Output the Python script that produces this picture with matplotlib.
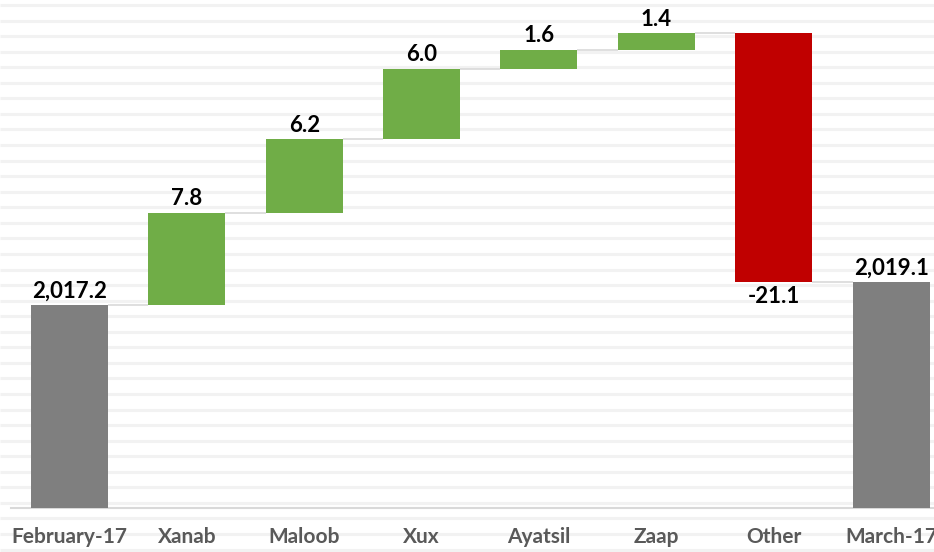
import numpy as np
import matplotlib
matplotlib.use("Agg")
from matplotlib import pyplot as plt

plt.rcParams['font.family'] = ['Lato', 'DejaVu Sans']

# data
categories = ['February-17', 'Xanab', 'Maloob', 'Xux', 'Ayatsil', 'Zaap', 'Other', 'March-17']
start_value = 2017.2
changes = [7.8, 6.2, 6.0, 1.6, 1.4, -21.1]
end_value = 2019.1

gray, green, red = '#7f7f7f', '#70ad47', '#c00000'
y_floor = 2000

fig = plt.figure(figsize=(9.34, 5.52), dpi=100)

# faint striped background across the whole picture
bg = fig.add_axes([0, 0, 1, 1], zorder=0)
bg.set_xlim(0, 934)
bg.set_ylim(552, 0)
bg.axis('off')
bg.hlines(np.arange(5, 552, 15.56), 0, 934, color='#f2f2f2', lw=2.2)

ax = fig.add_axes([10.8 / 934, (552 - 508) / 552, 939 / 934, 508 / 552], zorder=1)
ax.patch.set_alpha(0)

x = np.arange(len(categories))
w = 0.656

# running totals
totals = [start_value]
for c in changes:
    totals.append(totals[-1] + c)

bottoms = [y_floor]
heights = [start_value - y_floor]
colors = [gray]
for i, c in enumerate(changes):
    prev = totals[i]
    bottoms.append(min(prev, prev + c))
    heights.append(abs(c))
    colors.append(green if c > 0 else red)
bottoms.append(y_floor)
heights.append(end_value - y_floor)
colors.append(gray)

ax.bar(x, heights, bottom=bottoms, width=w, color=colors, zorder=3)

# connectors
levels = totals  # level after each bar, before the next
for i in range(len(categories) - 1):
    ax.hlines(levels[i], x[i] + w / 2, x[i + 1] - w / 2, color='#d9d9d9', lw=1.2, zorder=2)

# labels
labels = [f'{start_value:,.1f}'] + [f'{c:.1f}' for c in changes] + [f'{end_value:,.1f}']
for i in range(len(categories)):
    top = bottoms[i] + heights[i]
    if i in (0, len(categories) - 1) or changes[i - 1] > 0:
        ax.text(x[i], top + 0.3, labels[i], ha='center', va='bottom',
                fontsize=16, fontweight='bold', color='black')
    else:
        ax.text(x[i], bottoms[i] - 0.3, labels[i], ha='center', va='top',
                fontsize=16, fontweight='bold', color='black')

ax.set_xlim(-0.5, len(categories) - 0.5)
ax.set_ylim(y_floor, 2043)
ax.set_xticks(x)
ax.set_xticklabels(categories, fontsize=15, fontweight='bold', color='#595959')
ax.tick_params(axis='x', length=0, pad=14)
ax.set_yticks([])
for s in ['top', 'right', 'left']:
    ax.spines[s].set_visible(False)
ax.spines['bottom'].set_color('#d9d9d9')
ax.spines['bottom'].set_linewidth(1.5)

fig.savefig('out.png', dpi=100)
